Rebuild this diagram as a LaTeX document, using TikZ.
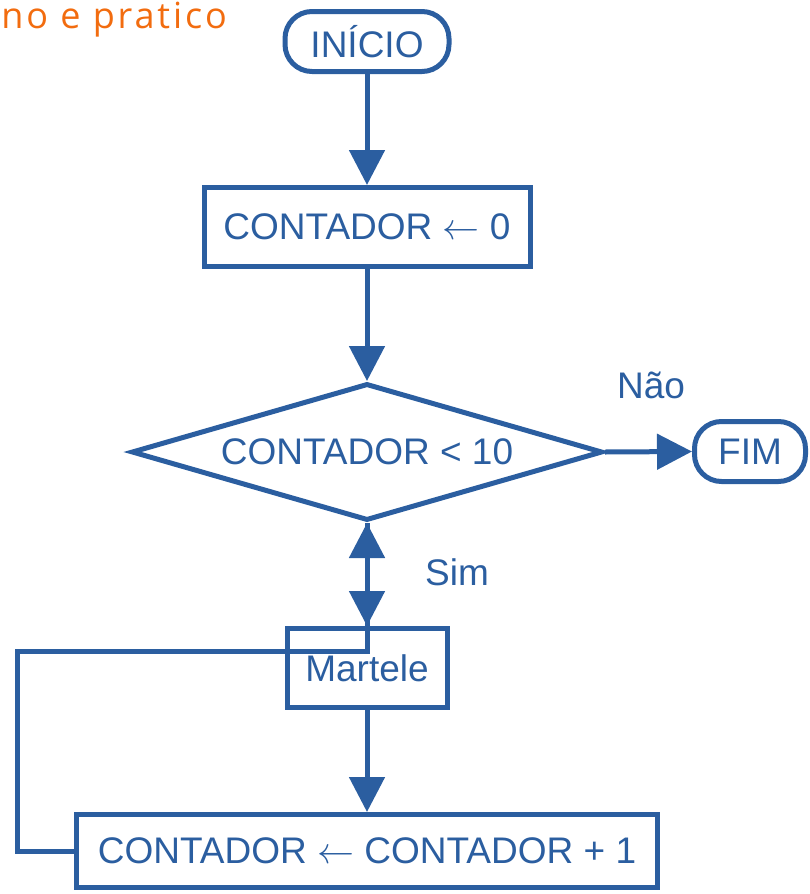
\RequirePackage{fix-cm}
\documentclass[tikz,border=0pt]{standalone}
\usepackage{fontspec}
\setmainfont{Liberation Sans}
\newfontfamily\orangefont[LetterSpace=8]{Open Sans}
\usetikzlibrary{arrows.meta,shapes.geometric}
\definecolor{myblue}{RGB}{43,94,160}
\definecolor{myorange}{RGB}{242,108,15}
\newcommand{\larr}{$\leftarrow$}
\begin{document}
\begin{tikzpicture}[x=1pt,y=-1pt,
  box/.style={draw=myblue, line width=5pt, inner sep=0pt, text=myblue,
    font=\fontsize{37}{41}\selectfont, fill=white},
  term/.style={box, rounded corners=27pt},
  arr/.style={draw=myblue, line width=5pt, -{Triangle[length=35pt,width=35pt]}},
  lbl/.style={text=myblue, font=\fontsize{37}{41}\selectfont, inner sep=0pt}]
\useasboundingbox (0,0) rectangle (809,894);
\node[anchor=base east, text=myorange, inner sep=0pt, font=\orangefont\fontsize{36}{40}\selectfont] (title) at (227,28) {no e pratico};
\node[term, minimum width=164pt, minimum height=60pt] (ini) at (367,41.5) {INÍCIO};
\node[box, minimum width=326pt, minimum height=79pt] (b1) at (367,227) {CONTADOR \larr{} 0};
\node[box, diamond, minimum width=471pt, minimum height=137pt, aspect=3.44] (dia) at (367,452) {CONTADOR < 10};
\node[term, minimum width=111pt, minimum height=60pt] (fim) at (750,451.5) {FIM};
\node[box, minimum width=160pt, minimum height=79pt] (mart) at (367,668) {Martele};
\node[box, minimum width=581pt, minimum height=73pt] (bot) at (367,851) {CONTADOR \larr{} CONTADOR + 1};
\node[lbl] (nao) at (651,385) {Não};
\node[lbl] (sim) at (457,572) {Sim};
\coordinate (lc) at (17.5,651.5);
\draw[arr] (ini) -- (b1);
\draw[arr] (b1) -- (dia);
\draw[arr] (dia.east) -- (fim.west);
\draw[arr] (dia.south) -- (mart.north);
\draw[arr] (bot.west) -| (lc) -- (mart.north |- lc) -- (dia.south);
\draw[arr] (mart) -- (bot);
\end{tikzpicture}
\end{document}
